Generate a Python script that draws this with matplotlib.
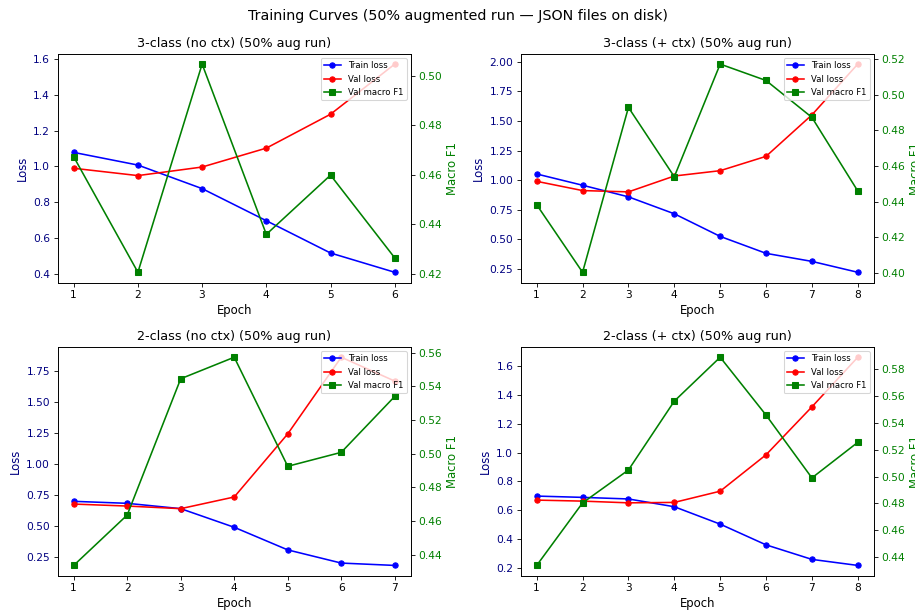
import matplotlib
matplotlib.use("Agg")
import matplotlib.pyplot as plt

# values, one block per run
titles = [
    "3-class (no ctx) (50% aug run)",
    "3-class (+ ctx) (50% aug run)",
    "2-class (no ctx) (50% aug run)",
    "2-class (+ ctx) (50% aug run)",
]

train_3_noctx = [1.079, 1.008, 0.876, 0.696, 0.515, 0.407]
val_3_noctx = [0.990, 0.949, 0.997, 1.103, 1.293, 1.574]
f1_3_noctx = [0.4673, 0.4207, 0.5047, 0.4360, 0.4599, 0.4265]

train_3_ctx = [1.052, 0.957, 0.859, 0.716, 0.525, 0.382, 0.314, 0.222]
val_3_ctx = [0.990, 0.912, 0.901, 1.035, 1.080, 1.201, 1.551, 1.980]
f1_3_ctx = [0.4383, 0.4004, 0.4929, 0.4540, 0.5172, 0.5080, 0.4873, 0.4460]

train_2_noctx = [0.702, 0.686, 0.643, 0.493, 0.311, 0.205, 0.186]
val_2_noctx = [0.680, 0.664, 0.643, 0.737, 1.245, 1.862, 1.670]
f1_2_noctx = [0.4335, 0.4635, 0.5446, 0.5574, 0.4925, 0.5008, 0.5341]

train_2_ctx = [0.698, 0.689, 0.678, 0.624, 0.503, 0.359, 0.258, 0.216]
val_2_ctx = [0.670, 0.663, 0.651, 0.654, 0.732, 0.985, 1.318, 1.663]
f1_2_ctx = [0.4338, 0.4804, 0.5049, 0.5562, 0.5889, 0.5458, 0.4990, 0.5255]

runs = [
    (train_3_noctx, val_3_noctx, f1_3_noctx),
    (train_3_ctx, val_3_ctx, f1_3_ctx),
    (train_2_noctx, val_2_noctx, f1_2_noctx),
    (train_2_ctx, val_2_ctx, f1_2_ctx),
]


def plot_run(ax, title, train, val, f1):
    epochs = list(range(1, len(train) + 1))
    l1, = ax.plot(epochs, train, marker='o', markersize=5, color='blue', label='Train loss')
    l2, = ax.plot(epochs, val, marker='o', markersize=5, color='red', label='Val loss')
    ax.set_xlabel('Epoch', fontsize=11)
    ax.set_ylabel('Loss', color='navy', fontsize=11)
    ax.tick_params(axis='y', labelcolor='navy')
    ax.set_xticks(epochs)
    ax.set_title(title, fontsize=12)

    ax2 = ax.twinx()
    l3, = ax2.plot(epochs, f1, marker='s', markersize=5, color='green', label='Val macro F1')
    ax2.set_ylabel('Macro F1', color='green', fontsize=11)
    ax2.tick_params(axis='y', labelcolor='green')

    ax2.legend([l1, l2, l3], [l.get_label() for l in (l1, l2, l3)], loc='upper right', fontsize=8)


fig, axes = plt.subplots(2, 2, figsize=(12, 8))
for ax, title, (train, val, f1) in zip(axes.flat, titles, runs):
    plot_run(ax, title, train, val, f1)

fig.suptitle('Training Curves (50% augmented run \u2014 JSON files on disk)', fontsize=13.5, y=0.985)
plt.subplots_adjust(left=0.063, right=0.955, top=0.912, bottom=0.056, wspace=0.311, hspace=0.28)
plt.savefig('out.png', dpi=76.25)
